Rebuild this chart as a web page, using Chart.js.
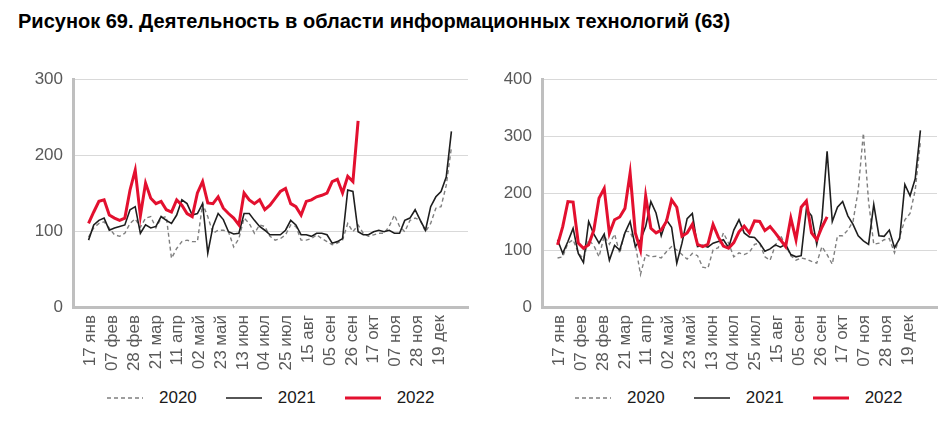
<!DOCTYPE html>
<html lang="ru">
<head>
<meta charset="utf-8">
<title>Рисунок 69</title>
<script src="https://cdn.jsdelivr.net/npm/chart.js@4.4.1/dist/chart.umd.min.js"></script>
<style>
    body { margin: 0; background: #fff; font-family: "Liberation Sans", Arial, sans-serif; }
    #page { position: relative; width: 948px; height: 429px; overflow: hidden; }
    #title { position: absolute; left: 18px; top: 10px; font-size: 20px; font-weight: bold; color: #000; white-space: nowrap; }
    canvas { position: absolute; top: 40px; }
    .legend { position: absolute; top: 388px; height: 20px; display: flex; align-items: center; font-size: 17px; color: #1a1a1a; }
    .legend .item { display: flex; align-items: center; margin-right: 29px; }
    .legend svg { margin-right: 16px; }
</style>
</head>
<body>
<div id="page">
    <div id="title">Рисунок 69. Деятельность в области информационных технологий (63)</div>
    <canvas id="chartLeft" width="474" height="345" style="left:0;width:474px;height:345px"></canvas>
    <canvas id="chartRight" width="474" height="345" style="left:474px;width:474px;height:345px"></canvas>
    <div class="legend" id="legendLeft" style="left:107px"></div>
    <div class="legend" id="legendRight" style="left:575px"></div>
</div>
<script>
// x = day of the year; one value every STEP days starting at START_DAY
const START_DAY = 15;
const STEP = 5;

const tickDays = [17, 38, 59, 80, 101, 122, 143, 164, 185, 206, 227, 248, 269, 290, 311, 332, 353];
const tickLabels = ['17 янв', '07 фев', '28 фев', '21 мар', '11 апр', '02 май', '23 май', '13 июн',
    '04 июл', '25 июл', '15 авг', '05 сен', '26 сен', '17 окт', '07 ноя', '28 ноя', '19 дек'];
const seriesNames = ['2020', '2021', '2022'];

// Left panel
const left2020 = [92, 104, 110, 112, 104, 95, 93, 97, 110, 116,
    105, 117, 119, 104, 117, 119, 64, 77, 86, 88,
    86, 86, 136, 119, 97, 101, 101, 99, 79, 90,
    117, 110, 97, 108, 106, 93, 88, 90, 95, 108,
    106, 88, 88, 90, 95, 90, 86, 82, 84, 88,
    110, 99, 108, 97, 93, 95, 97, 97, 106, 121,
    106, 99, 114, 117, 114, 99, 110, 130, 132, 160, 210];
const left2021 = [88, 108, 114, 117, 101, 104, 106, 108, 128, 132,
    97, 108, 104, 106, 119, 114, 110, 121, 141, 136,
    121, 123, 136, 71, 106, 123, 115, 99, 96, 97,
    123, 123, 114, 106, 101, 95, 95, 95, 101, 114,
    108, 95, 95, 93, 97, 97, 95, 84, 86, 90,
    154, 152, 99, 95, 95, 99, 101, 99, 101, 97,
    97, 114, 117, 128, 114, 101, 132, 145, 152, 171, 231];
const left2022 = [110, 125, 139, 141, 121, 117, 114, 117, 154, 180,
    120, 163, 143, 136, 139, 128, 125, 141, 134, 123,
    119, 150, 165, 137, 136, 145, 130, 123, 117, 108,
    150, 141, 136, 141, 128, 134, 143, 152, 156, 136,
    132, 121, 139, 141, 145, 147, 150, 165, 168, 150,
    172, 165, 245];

// Right panel
const right2020 = [86, 88, 112, 118, 95, 84, 118, 108, 88, 125,
    110, 128, 94, 133, 132, 110, 57, 92, 88, 89,
    86, 97, 106, 100, 92, 84, 94, 90, 70, 68,
    100, 104, 130, 112, 88, 95, 92, 96, 110, 112,
    88, 82, 108, 126, 108, 90, 82, 86, 84, 80,
    77, 106, 92, 75, 125, 125, 135, 150, 205, 305,
    185, 110, 112, 118, 120, 95, 123, 153, 164, 205, 290];
const right2021 = [118, 94, 115, 138, 94, 78, 150, 128, 112, 128,
    82, 108, 100, 130, 150, 106, 118, 141, 185, 165,
    125, 153, 140, 77, 112, 155, 164, 106, 108, 105,
    112, 115, 118, 104, 135, 153, 130, 123, 122, 112,
    98, 102, 109, 105, 110, 92, 88, 90, 172, 160,
    110, 155, 273, 150, 175, 185, 160, 145, 125, 116,
    110, 180, 125, 124, 135, 104, 120, 215, 195, 225, 310];
const right2022 = [109, 141, 185, 184, 112, 103, 109, 135, 191, 208,
    129, 153, 158, 173, 235, 130, 100, 195, 138, 130,
    135, 150, 188, 175, 124, 130, 145, 110, 106, 110,
    145, 123, 107, 103, 113, 132, 142, 130, 151, 150,
    134, 141, 130, 118, 106, 156, 118, 175, 186, 130,
    118, 140, 158];

// Line styles per year
const lineStyles = {
    '2020': { color: '#7f7f7f', width: 1.4, dash: [4, 3], order: 2 },
    '2021': { color: '#1e1e1e', width: 1.6, dash: [], order: 1 },
    '2022': { color: '#e3102f', width: 3, dash: [], order: 0 }
};

const FONT = '"Liberation Sans", Arial, sans-serif';
const TICK_COLOR = '#595959';
const AXIS_COLOR = '#bfbfbf';

Chart.defaults.font.family = FONT;

function toPoints(values) {
    return values.map((v, i) => ({ x: START_DAY + i * STEP, y: v }));
}

function makeChart(canvasId, seriesValues, yMax, yWidth, padRight) {
    const datasets = seriesNames.map((name, i) => {
        const st = lineStyles[name];
        return {
            label: name,
            data: toPoints(seriesValues[i]),
            borderColor: st.color,
            borderWidth: st.width,
            borderDash: st.dash,
            order: st.order,
            pointRadius: 0,
            tension: 0,
            fill: false
        };
    });

    return new Chart(document.getElementById(canvasId), {
        type: 'line',
        data: { datasets },
        options: {
            responsive: false,
            animation: false,
            devicePixelRatio: 1,
            layout: { padding: { top: 39, right: padRight, left: 0, bottom: 0 } },
            plugins: { legend: { display: false }, tooltip: { enabled: false } },
            scales: {
                x: {
                    type: 'linear',
                    min: 0,
                    max: 381,
                    grid: { display: false, drawTicks: false },
                    border: { display: true, color: AXIS_COLOR, width: 3 },
                    afterBuildTicks: scale => { scale.ticks = tickDays.map(d => ({ value: d })); },
                    afterFit: scale => { scale.height = 78; },
                    ticks: {
                        autoSkip: false,
                        minRotation: 90,
                        maxRotation: 90,
                        padding: 8,
                        color: TICK_COLOR,
                        font: { size: 17 },
                        callback: v => tickLabels[tickDays.indexOf(v)]
                    }
                },
                y: {
                    min: 0,
                    max: yMax,
                    grid: { color: '#d9d9d9', lineWidth: 1, drawTicks: false },
                    border: { display: true, color: AXIS_COLOR, width: 3 },
                    afterFit: scale => { scale.width = yWidth; },
                    ticks: { stepSize: 100, padding: 10, color: TICK_COLOR, font: { size: 17 } }
                }
            }
        }
    });
}

function buildLegend(elId) {
    const el = document.getElementById(elId);
    seriesNames.forEach(name => {
        const st = lineStyles[name];
        const item = document.createElement('div');
        item.className = 'item';
        item.innerHTML = `<svg width="36" height="6"><line x1="0" y1="3" x2="36" y2="3" stroke="${st.color}"
            stroke-width="${st.width}" stroke-dasharray="${st.dash.join(',') || 'none'}"/></svg><span>${name}</span>`;
        el.appendChild(item);
    });
}

makeChart('chartLeft', [left2020, left2021, left2022], 300, 73, 6);
makeChart('chartRight', [right2020, right2021, right2022], 400, 68, 11);
buildLegend('legendLeft');
buildLegend('legendRight');
</script>
</body>
</html>
